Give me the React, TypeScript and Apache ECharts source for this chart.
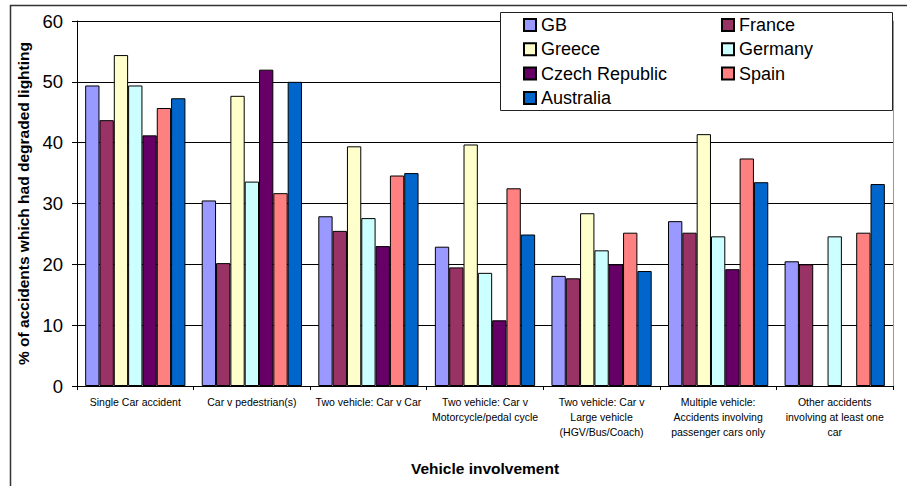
import React, { useEffect, useRef } from "react";
import * as echarts from "echarts";

const categories = [
  "Single Car accident",
  "Car v pedestrian(s)",
  "Two vehicle: Car v Car",
  "Two vehicle: Car v\nMotorcycle/pedal cycle",
  "Two vehicle: Car v\nLarge vehicle\n(HGV/Bus/Coach)",
  "Multiple vehicle:\nAccidents involving\npassenger cars only",
  "Other accidents\ninvolving at least one\ncar",
];

const seriesNames = ["GB", "France", "Greece", "Germany", "Czech Republic", "Spain", "Australia"];
const seriesColors = ["#9999FF", "#993366", "#FFFFCC", "#CCFFFF", "#660066", "#FF8080", "#0066CC"];

const gb = [49.4, 30.5, 27.9, 22.9, 18.1, 27.1, 20.5];
const france = [43.7, 20.2, 25.5, 19.5, 17.7, 25.2, 20.0];
const greece = [54.4, 47.7, 39.4, 39.7, 28.4, 41.4, null];
const germany = [49.4, 33.6, 27.6, 18.6, 22.3, 24.6, 24.6];
const czech = [41.2, 52.0, 23.0, 10.8, 20.0, 19.2, null];
const spain = [45.7, 31.7, 34.6, 32.5, 25.2, 37.4, 25.2];
const australia = [47.3, 50.0, 35.0, 24.9, 18.9, 33.5, 33.2];

const seriesValues = [gb, france, greece, germany, czech, spain, australia];

const yTicks = { min: 0, max: 60, interval: 10 };

const FONT = "Arial, 'Liberation Sans', sans-serif";

export default function App() {
  const ref = useRef<HTMLDivElement>(null);

  useEffect(() => {
    if (!ref.current) return;
    const chart = echarts.init(ref.current, undefined, { renderer: "svg" });
    const legendText = { fontSize: 18, fontFamily: FONT, color: "#000", lineHeight: 20 };
    const option: any = {
      animation: false,
      backgroundColor: "#fff",
      grid: { left: 77, right: 14, top: 21, bottom: 100, containLabel: false },
      graphic: [
        {
          type: "rect",
          z: 0,
          silent: true,
          shape: { x: 10.5, y: 5.5, width: 910, height: 500 },
          style: { fill: "none", stroke: "#333", lineWidth: 1.5 },
        },
        {
          type: "rect",
          z: 5,
          silent: true,
          shape: { x: 500.5, y: 12.5, width: 392, height: 98 },
          style: { fill: "#fff", stroke: "#222", lineWidth: 1 },
        },
      ],
      legend: [
        {
          z: 10,
          orient: "vertical",
          left: 523,
          top: 15,
          padding: 0,
          itemGap: 4.3,
          itemWidth: 12,
          itemHeight: 12,
          icon: "rect",
          selectedMode: false,
          textStyle: legendText,
          data: [seriesNames[0], seriesNames[2], seriesNames[4], seriesNames[6]],
        },
        {
          z: 10,
          orient: "vertical",
          left: 721,
          top: 15,
          padding: 0,
          itemGap: 4.3,
          itemWidth: 12,
          itemHeight: 12,
          icon: "rect",
          selectedMode: false,
          textStyle: legendText,
          data: [seriesNames[1], seriesNames[3], seriesNames[5]],
        },
      ],
      xAxis: {
        type: "category",
        data: categories,
        name: "Vehicle involvement",
        nameLocation: "middle",
        nameGap: 74,
        nameTextStyle: { fontSize: 15.5, fontWeight: "bold", fontFamily: FONT, color: "#000" },
        axisLine: { lineStyle: { color: "#000", width: 1 } },
        axisTick: { show: true, length: 4, interval: 0, lineStyle: { color: "#000" } },
        axisLabel: {
          interval: 0,
          margin: 8,
          fontSize: 10.5,
          lineHeight: 15,
          fontFamily: FONT,
          color: "#000",
          align: "center",
        },
        splitLine: { show: false },
      },
      yAxis: [
        {
          type: "value",
          min: yTicks.min,
          max: yTicks.max,
          interval: yTicks.interval,
          name: "% of accidents which had degraded lighting",
          nameLocation: "middle",
          nameGap: 45,
          nameTextStyle: { fontSize: 15.5, fontWeight: "bold", fontFamily: FONT, color: "#000" },
          axisLine: { show: true, lineStyle: { color: "#000", width: 1 } },
          axisTick: { show: true, length: 5, lineStyle: { color: "#000" } },
          axisLabel: { fontSize: 18.5, fontFamily: FONT, color: "#000", margin: 14 },
          splitLine: { show: true, lineStyle: { color: "#000", width: 1 } },
        },
        {
          type: "value",
          position: "right",
          min: yTicks.min,
          max: yTicks.max,
          interval: yTicks.interval,
          axisLine: { show: true, lineStyle: { color: "#999", width: 1 } },
          axisTick: { show: false },
          axisLabel: { show: false },
          splitLine: { show: false },
        },
      ],
      series: seriesNames.map((name, i) => ({
        name,
        type: "bar",
        yAxisIndex: 0,
        data: seriesValues[i],
        barGap: "0%",
        barCategoryGap: "14%",
        itemStyle: { color: seriesColors[i], borderColor: "#000", borderWidth: 1 },
      })),
    };
    chart.setOption(option);
    return () => chart.dispose();
  }, []);

  return (
    <div
      ref={ref}
      style={{ position: "absolute", left: 0, top: 0, width: 907, height: 486 }}
    />
  );
}
